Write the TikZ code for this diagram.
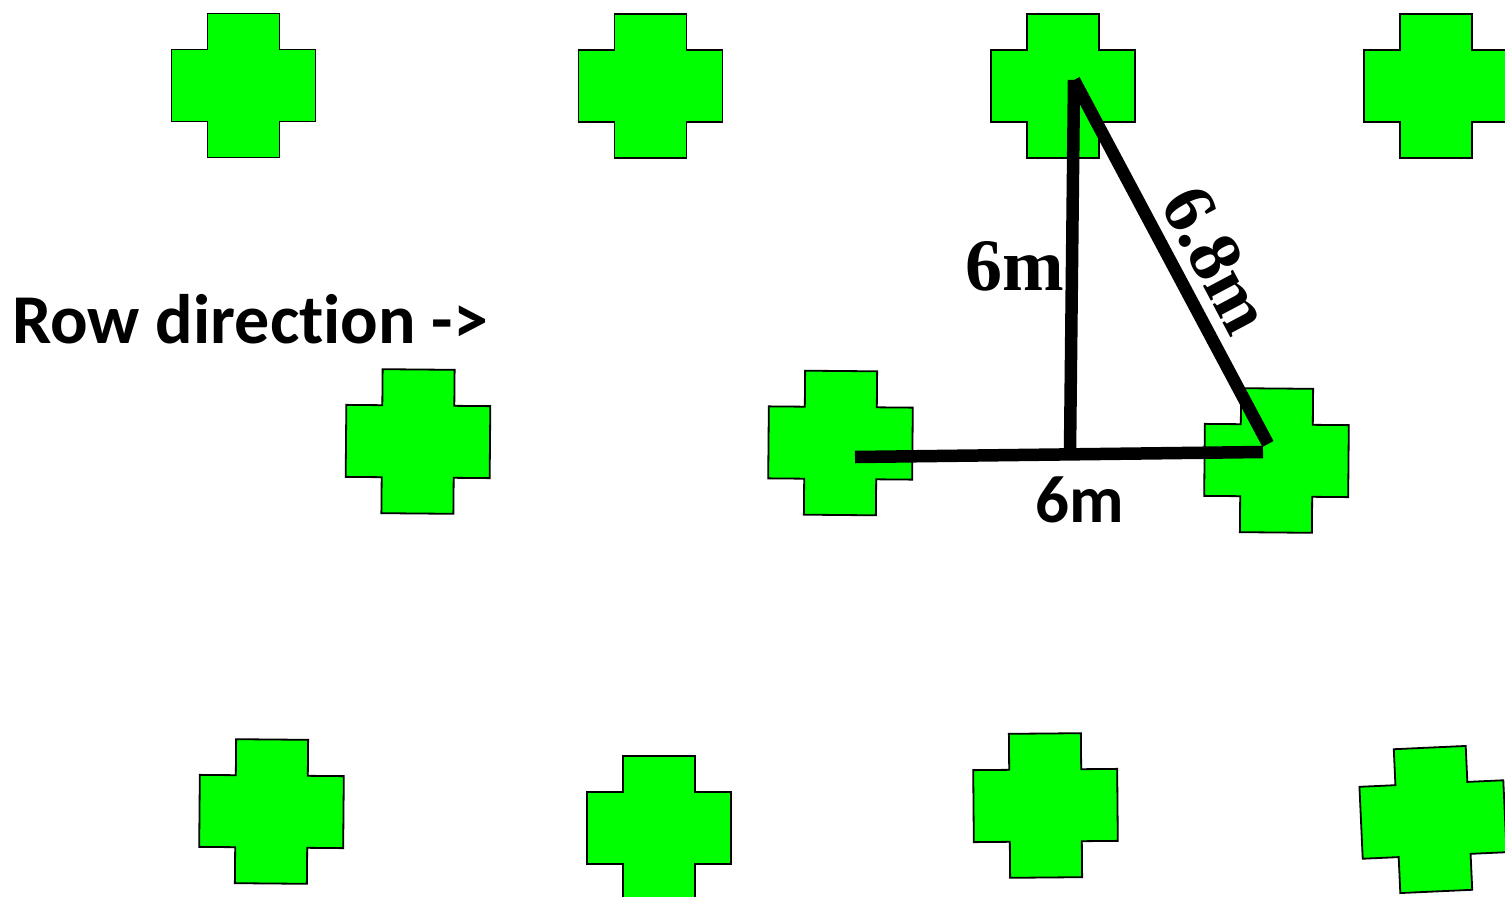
\documentclass[tikz,border=0pt]{standalone}
\usepackage{fontspec}
\newfontfamily\calibri{Carlito}[Ligatures=NoCommon]
\newfontfamily\cambria{Liberation Serif}
\tikzset{
  plantstyle/.style={fill=green, draw=black, line width=1.8pt, line join=miter},
  plant/.pic={\draw[plantstyle] (-36,-72)--(36,-72)--(36,-36)--(72,-36)--(72,36)--(36,36)--(36,72)--(-36,72)--(-36,36)--(-72,36)--(-72,-36)--(-36,-36)--cycle;},
  bar/.style={line width=12.5pt, black},
  sanslabel/.style={font=\calibri\bfseries\fontsize{67}{70}\selectfont, inner sep=0pt},
  seriflabel/.style={font=\cambria\bfseries\fontsize{74}{78}\selectfont, inner sep=0pt}
}
\begin{document}
\begin{tikzpicture}[x=1pt,y=-1pt]
\useasboundingbox (0,0) rectangle (1505,897);
\clip (0,0) rectangle (1505,897);
% plants
\pic at (243.5,85.5) {plant};
\pic at (650.5,86) {plant};
\pic at (1063,86) {plant};
\pic at (1436,86) {plant};
\pic[rotate=-0.5] at (418,441.5) {plant};
\pic[rotate=-0.5] at (840.5,443) {plant};
\pic[rotate=-0.5] at (1276.5,460.5) {plant};
\pic[rotate=-0.5] at (271.5,811.5) {plant};
\pic at (659,828) {plant};
\pic[rotate=0.5] at (1045.5,805.5) {plant};
\pic[rotate=2.6] at (1433,819.5) {plant};
% triangle
\coordinate (a) at (1074,80);
\coordinate (b) at (1070,452);
\coordinate (c1) at (855,457);
\coordinate (c2) at (1263,452);
\coordinate (d) at (1268,444);
\draw[bar] (a) -- (b);
\draw[bar] (c1) -- (c2);
\draw[bar] (a) -- (d);
% labels
\node[sanslabel, font=\calibri\bfseries\fontsize{70}{74}\selectfont, anchor=base west] (row) at (12,343) {Row direction ->};
\node[sanslabel, anchor=base] (h) at (1080,522) {6m};
\node[seriflabel, anchor=base] (v) at (1015,290) {6m};
\node[seriflabel, rotate=-62, anchor=center] (diag) at (1217,260) {6.8m};
\end{tikzpicture}
\end{document}
